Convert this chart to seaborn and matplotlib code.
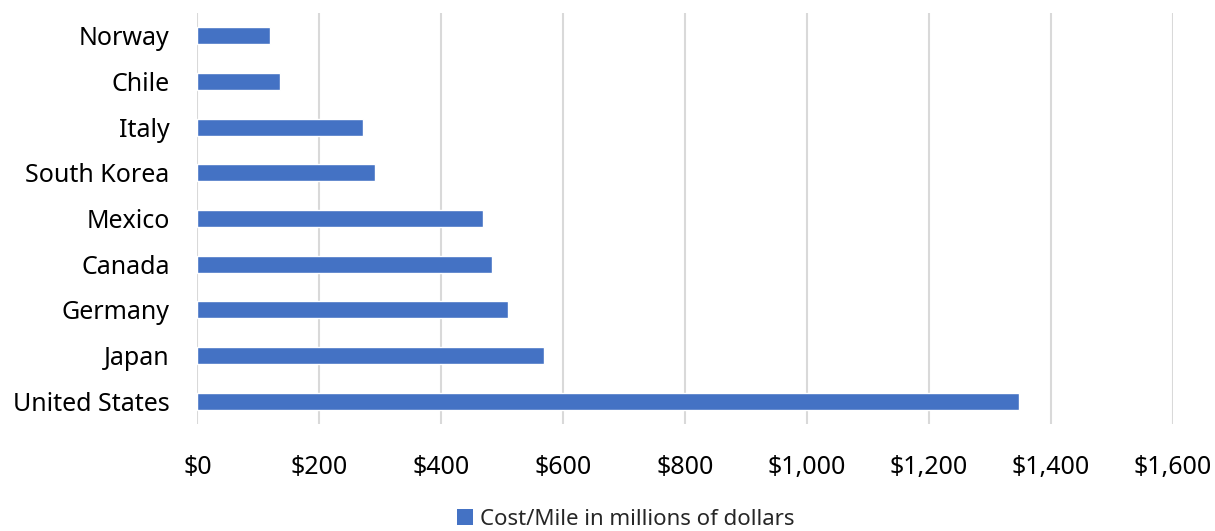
import matplotlib
matplotlib.use('Agg')
import matplotlib.pyplot as plt
import matplotlib.ticker as mticker
from matplotlib.patches import Patch
import pandas as pd
import seaborn as sns

# Data
countries = ['Norway', 'Chile', 'Italy', 'South Korea', 'Mexico',
             'Canada', 'Germany', 'Japan', 'United States']
cost_per_mile = [120, 135, 271, 292, 468, 483, 509, 569, 1348]
series_name = 'Cost/Mile in millions of dollars'

sns.set_theme(style='white')
plt.rcParams['font.family'] = ['Noto Sans', 'DejaVu Sans']

df = pd.DataFrame({'Country': countries, 'Cost': cost_per_mile})

fig = plt.figure(figsize=(12.15, 5.31), dpi=100)
ax = fig.add_axes([0.1624, 0.2015, 0.8030, 0.774])

sns.barplot(data=df, x='Cost', y='Country', order=countries, color='#4472C4',
            saturation=1, width=0.37, ax=ax)

ax.set_xlim(0, 1600)
ax.xaxis.set_major_locator(mticker.MultipleLocator(200))
ax.xaxis.set_major_formatter(mticker.FuncFormatter(lambda v, p: '${:,.0f}'.format(v)))
ax.grid(axis='x', color='#d9d9d9', linewidth=1.5)
ax.set_axisbelow(True)
for s in ax.spines.values():
    s.set_visible(False)
ax.set_xlabel('')
ax.set_ylabel('')
ax.tick_params(axis='both', length=0, labelsize=18, colors='#000000')
ax.tick_params(axis='x', pad=22)
ax.tick_params(axis='y', pad=20)

# legend at the bottom, a bit right of centre like the original
handle = Patch(facecolor='#4472C4', edgecolor='none')
fig.legend([handle], [series_name], loc='lower center', bbox_to_anchor=(0.515, -0.035),
           frameon=False, fontsize=16, handlelength=0.7, handleheight=0.7,
           handletextpad=0.3)

fig.savefig('out.png', dpi=100)
